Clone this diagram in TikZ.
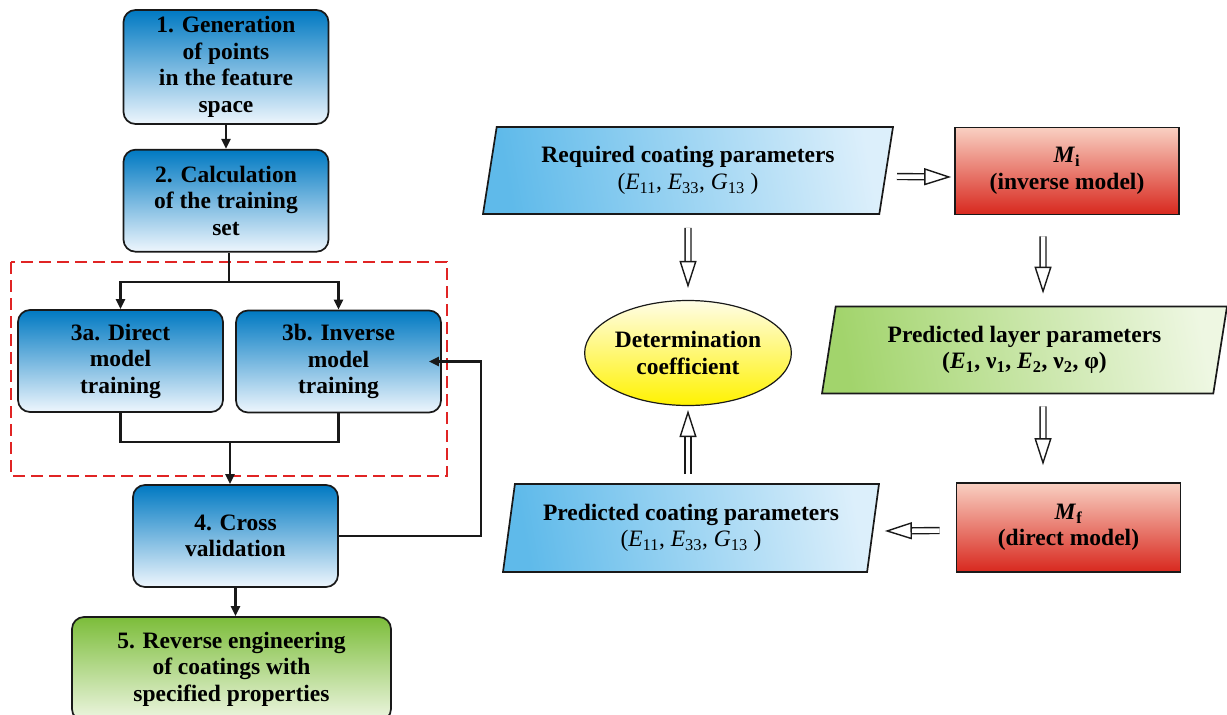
\documentclass[tikz,border=0pt]{standalone}
\usepackage{fontspec}
\setmainfont{Liberation Serif}
\usepackage{xcolor}
\usepackage{tikz}
\usetikzlibrary{positioning, arrows.meta, calc, shapes.geometric}
\definecolor{StepBlue}{HTML}{0079C2}
\definecolor{StepBlueLight}{HTML}{EEF6FD}
\definecolor{StepGreen}{HTML}{7CBD3A}
\definecolor{StepGreenLight}{HTML}{EEF6E2}
\definecolor{ModelRed}{HTML}{D8281E}
\definecolor{ModelPink}{HTML}{F9D0C2}
\definecolor{DataBlue}{HTML}{5FBAEA}
\definecolor{DataBlueLight}{HTML}{DCEFFB}
\definecolor{DataGreen}{HTML}{A2D46C}
\definecolor{DataGreenLight}{HTML}{EEF7E2}
\definecolor{DetYellow}{HTML}{FFF200}
\definecolor{DetYellowLight}{HTML}{FFFDE6}
\definecolor{FrameRed}{HTML}{E02424}

\begin{document}
\begin{tikzpicture}[x=1pt, y=-1pt,
    font=\bfseries\fontsize{23.5}{26.5}\selectfont,
    stepbox/.style={draw=black!90, line width=1.7pt, rounded corners=12pt,
                    minimum width=205pt, minimum height=102pt, align=center,
                    inner sep=0pt, top color=StepBlue, bottom color=StepBlueLight},
    modelbox/.style={draw=black!90, line width=1.7pt, minimum width=224pt,
                     minimum height=87pt, align=center, inner sep=0pt,
                     top color=ModelPink, bottom color=ModelRed},
    databox/.style={trapezium, trapezium left angle=74, trapezium right angle=106,
                    trapezium stretches body, draw=black!90, line width=1.7pt,
                    minimum height=87pt, align=center, inner sep=0pt},
    flow/.style={-{Triangle[length=10pt, width=9pt]}, line width=2.6pt, black!90},
    link/.style={line width=2.6pt, black!90},
    hollow/.style={double=white, double distance=4.5pt, line width=1.4pt, black!90,
                   -{Triangle[open, length=27pt, width=17pt]}}]
  \useasboundingbox (0,0) rectangle (1227,715);

  % left column: steps
  \draw[FrameRed, line width=2.6pt, dash pattern=on 12pt off 6pt]
    (11,262) rectangle (447,476);
  \node[stepbox, minimum height=114pt] (gen) at (226,67)
    {1. Generation\\of points\\in the feature\\space};
  \node[stepbox, below=24pt of gen] (calc) {2. Calculation\\of the training\\set};
  \node[stepbox] (direct) at (120.5,361) {3a. Direct\\model\\training};
  \node[stepbox] (inverse) at (338.5,361.5) {3b. Inverse\\model\\training};
  \node[stepbox] (cross) at (235.5,536) {4. Cross\\validation};
  \node[stepbox, minimum width=319pt, minimum height=104pt,
        top color=StepGreen, bottom color=StepGreenLight] (reverse) at (231.5,669)
    {5. Reverse engineering\\of coatings with\\specified properties};

  \coordinate (split) at (229,282);
  \coordinate (merge) at (230,442);
  \draw[flow] (gen) -- (calc);
  \draw[link] (calc.south -| split) -- (split);
  \draw[flow] (split) -| (direct.north);
  \draw[flow] (split) -| (inverse.north);
  \draw[link] (direct.south) |- (merge) -| (inverse.south);
  \draw[flow] (merge) -- (merge |- cross.north);
  \draw[flow] (cross.south) -- (cross.south |- reverse.north);
  \draw[flow] (cross.east) -- ++(142,0) |- ([xshift=-13pt]inverse.east);

  % right part: models
  \node[databox, minimum width=410pt, left color=DataBlue, right color=DataBlueLight,
        shading angle=100] (required) at (688,170.5)
    {Required coating parameters\\{\mdseries(\textit{E}\textsubscript{11}, \textit{E}\textsubscript{33}, \textit{G}\textsubscript{13} )}};
  \node[modelbox] (minv) at (1067,171) {\textit{M}\textsubscript{i}\\(inverse model)};
  \node[databox, minimum width=405pt, left color=DataGreen, right color=DataGreenLight,
        shading angle=100] (layer) at (1024.5,350)
    {Predicted layer parameters\\(\textit{E}\textsubscript{1}, ν\textsubscript{1}, \textit{E}\textsubscript{2}, ν\textsubscript{2}, φ)};
  \node[modelbox, minimum height=89pt] (mdir) at (1068.5,527.5)
    {\textit{M}\textsubscript{f}\\(direct model)};
  \node[databox, minimum width=376pt, minimum height=88pt, trapezium left angle=76,
        trapezium right angle=104, left color=DataBlue, right color=DataBlueLight,
        shading angle=100] (predicted) at (691,528)
    {Predicted coating parameters\\{\mdseries(\textit{E}\textsubscript{11}, \textit{E}\textsubscript{33}, \textit{G}\textsubscript{13} )}};
  \node[ellipse, draw=black!90, line width=1.2pt, minimum width=184pt,
        minimum height=105pt, align=center, inner sep=0pt,
        top color=DetYellowLight, bottom color=DetYellow] (coef) at (688,353)
    {Determination\\coefficient};

  \draw[hollow] ([xshift=10pt, yshift=-6pt]required.east) -- ([xshift=-3pt, yshift=-6pt]minv.west);
  \draw[hollow] ([yshift=-13pt]required.south) -- ([yshift=12pt]coef.north);
  \draw[hollow] ($(minv.south)+(-24,21)$) -- ($(layer.north)+(18.5,-12)$);
  \draw[hollow] ($(layer.south)+(18.5,12)$) -- ($(mdir.north)+(-25.5,-17)$);
  \draw[hollow] ([xshift=-16pt, yshift=-3pt]mdir.west) -- ([xshift=11pt, yshift=-3pt]predicted.east);
  \draw[hollow] ([yshift=9pt]predicted.north -| coef) -- ([yshift=-4pt]coef.south);
\end{tikzpicture}
\end{document}
